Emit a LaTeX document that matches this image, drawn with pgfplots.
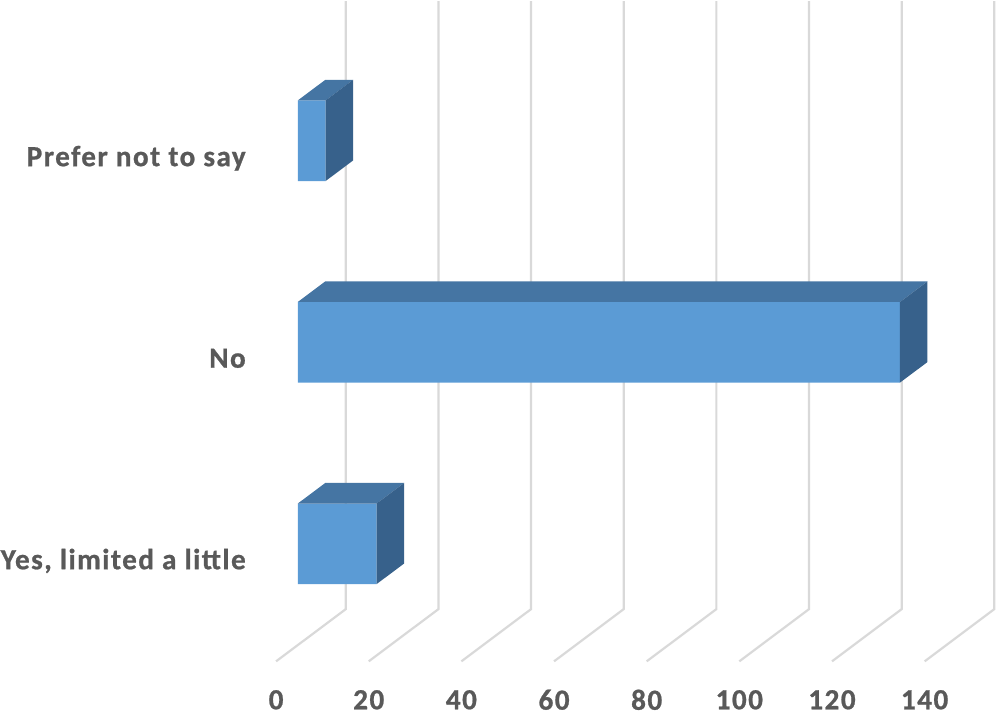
\documentclass[border=0pt]{standalone}
\usepackage{fontspec}
\setmainfont{Carlito}[LetterSpace=5, BoldFeatures={FakeBold=0.8}]
\usepackage{pgfplots}
\pgfplotsset{compat=1.18}

\definecolor{barfront}{HTML}{5B9BD5}
\definecolor{bartop}{HTML}{4575A3}
\definecolor{barside}{HTML}{37618B}
\definecolor{gridgray}{HTML}{D9D9D9}
\definecolor{labelgray}{HTML}{595959}

% category index, count
\pgfplotstableread{
cat val
0   17
1   130
2   6
}\answers

\begin{document}
\begin{tikzpicture}
\begin{axis}[
  scale only axis,
  width=498.5pt, height=360.5pt,
  xmin=-64.24, xmax=150.9,
  ymin=-0.883, ymax=2.693,
  clip=false,
  axis line style={draw=none},
  major tick length=0pt,
  % value labels sit under the front edge of the floor
  xtick={-4.68,15.32,35.32,55.32,75.32,95.32,115.32,135.32},
  xticklabels={0,20,40,60,80,100,120,140},
  xticklabel style={anchor=center, yshift=11pt, inner sep=0pt},
  ytick={0,1,2},
  yticklabels={{Yes, limited a little},{No},{Prefer not to say}},
  yticklabel style={anchor=base east, xshift=123pt, yshift=-12.7pt, inner sep=0pt},
  ticklabel style={font=\bfseries\fontsize{14.6}{17}\selectfont, text=labelgray},
]

% floor lines running back, then up the back wall
\pgfplotsset{gridline/.style={draw=gridgray, line width=1.1pt, line join=miter}}
\addplot[gridline] coordinates {(-4.68,-0.583) (10.36,-0.324) (10.36,2.693)};
\addplot[gridline] coordinates {(15.32,-0.583) (30.36,-0.324) (30.36,2.693)};
\addplot[gridline] coordinates {(35.32,-0.583) (50.36,-0.324) (50.36,2.693)};
\addplot[gridline] coordinates {(55.32,-0.583) (70.36,-0.324) (70.36,2.693)};
\addplot[gridline] coordinates {(75.32,-0.583) (90.36,-0.324) (90.36,2.693)};
\addplot[gridline] coordinates {(95.32,-0.583) (110.36,-0.324) (110.36,2.693)};
\addplot[gridline] coordinates {(115.32,-0.583) (130.36,-0.324) (130.36,2.693)};
\addplot[gridline] coordinates {(135.32,-0.583) (150.36,-0.324) (150.36,2.693)};

% front faces of the bars
\addplot[xbar, bar width=0.4, fill=barfront, draw=none] table[x=val, y=cat] {\answers};

% top faces (depth offset 5.93 along x, 0.102 along y)
\addplot[fill=bartop, draw=none] coordinates {(0,0.2) (17,0.2) (22.93,0.302) (5.93,0.302)} -- cycle;
\addplot[fill=bartop, draw=none] coordinates {(0,1.2) (130,1.2) (135.93,1.302) (5.93,1.302)} -- cycle;
\addplot[fill=bartop, draw=none] coordinates {(0,2.2) (6,2.2) (11.93,2.302) (5.93,2.302)} -- cycle;

% right side faces
\addplot[fill=barside, draw=none] coordinates {(17,-0.2) (17,0.2) (22.93,0.302) (22.93,-0.098)} -- cycle;
\addplot[fill=barside, draw=none] coordinates {(130,0.8) (130,1.2) (135.93,1.302) (135.93,0.902)} -- cycle;
\addplot[fill=barside, draw=none] coordinates {(6,1.8) (6,2.2) (11.93,2.302) (11.93,1.902)} -- cycle;

\end{axis}
\end{tikzpicture}
\end{document}
